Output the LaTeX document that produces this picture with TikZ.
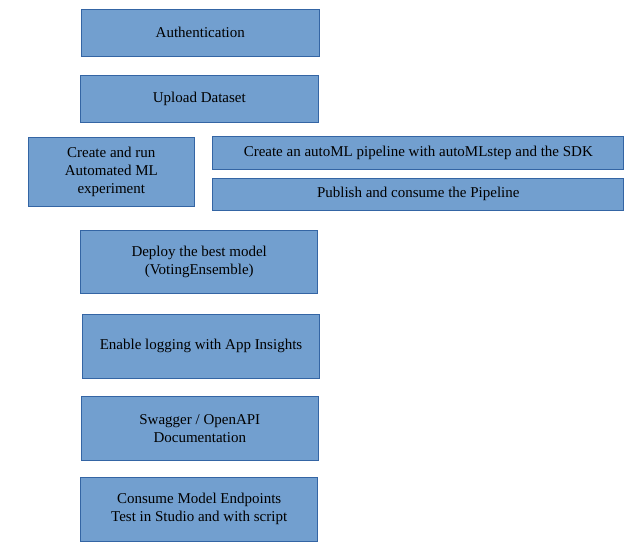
\documentclass[tikz,border=0pt]{standalone}
\usepackage{fontspec}
\setmainfont{Liberation Serif}
\usepackage{xcolor}
\definecolor{box-fill}{HTML}{729FCF}
\definecolor{box-line}{HTML}{3465A4}
\tikzset{
    flow-box/.style = {draw=box-line, fill=box-fill, line width=1pt, rectangle, align=center, inner sep=0pt, font=\fontsize{15}{18}\selectfont},
}
\begin{document}
\begin{tikzpicture}[x=1pt, y=-1pt]
\useasboundingbox (0,0) rectangle (640,553);
\node[flow-box, minimum width=238pt, minimum height=47pt] (auth) at (200.3,32.7) {Authentication};
\node[flow-box, minimum width=238pt, minimum height=47pt] (upload) at (199.3,98.8) {Upload Dataset};
\node[flow-box, minimum width=166pt, minimum height=69pt] (automl) at (111.3,171.8) {Create and run\\Automated ML\\experiment};
\node[flow-box, minimum width=411pt, minimum height=32.6pt] (pipeline) at (418.3,153) {Create an autoML pipeline with autoMLstep and the SDK};
\node[flow-box, minimum width=411pt, minimum height=31.7pt] (publish) at (418.3,194.2) {Publish and consume the Pipeline};
\node[flow-box, minimum width=237pt, minimum height=63.3pt] (deploy) at (199.2,262.3) {Deploy the best model\\(VotingEnsemble)};
\node[flow-box, minimum width=236.6pt, minimum height=64pt] (logging) at (201,346.3) {Enable logging with App Insights};
\node[flow-box, minimum width=237pt, minimum height=63.6pt] (swagger) at (199.8,428.5) {Swagger / OpenAPI\\Documentation};
\node[flow-box, minimum width=237pt, minimum height=64pt] (consume) at (199.2,509.3) {Consume Model Endpoints\\Test in Studio and with script};
\end{tikzpicture}
\end{document}
